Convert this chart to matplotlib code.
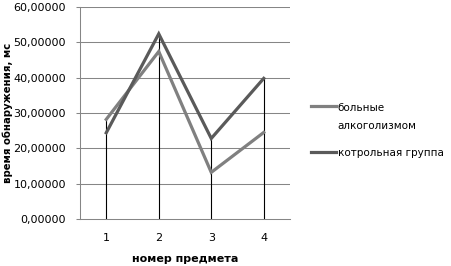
import matplotlib
matplotlib.use('Agg')
import matplotlib.pyplot as plt
from matplotlib.legend_handler import HandlerLine2D

# данные
subjects = [1, 2, 3, 4]
alcoholics = [28.2, 47.4, 13.2, 24.5]
control = [24.4, 52.4, 22.8, 39.8]
labels = ['больные\nалкоголизмом', 'котрольная группа']
y_ticks = [0, 10, 20, 30, 40, 50, 60]

plt.rcParams['font.family'] = ['DejaVu Sans']


class HandlerTop(HandlerLine2D):
    # линия легенды на уровне первой строки подписи
    def __init__(self, shift=0.0, **kw):
        super().__init__(**kw)
        self.shift = shift

    def create_artists(self, legend, orig_handle, xdescent, ydescent,
                       width, height, fontsize, trans):
        arts = super().create_artists(legend, orig_handle, xdescent, ydescent,
                                      width, height, fontsize, trans)
        for a in arts:
            yd = a.get_ydata()
            a.set_ydata([v + self.shift * fontsize for v in yd])
        return arts


fig = plt.figure(figsize=(4.51, 2.66), dpi=100)
ax = fig.add_axes([80 / 451, 1 - 219 / 266, 210 / 451, 212 / 266])

for y in y_ticks[1:]:
    ax.axhline(y, color='#868686', lw=0.75, zorder=0)

tops = [max(a, b) for a, b in zip(alcoholics, control)]
ax.vlines(subjects, 0, tops, color='black', lw=0.8, zorder=1)

l1, = ax.plot(subjects, alcoholics, color='#808080', lw=2.3, label=labels[0],
              zorder=2, solid_joinstyle='miter')
l2, = ax.plot(subjects, control, color='#5a5a5a', lw=2.3, label=labels[1],
              zorder=3, solid_joinstyle='miter')

ax.set_xlim(0.5, 4.5)
ax.set_ylim(0, 60)
ax.set_xticks(subjects)
ax.set_yticks(y_ticks)
ax.set_yticklabels([f'{v:.5f}'.replace('.', ',') for v in y_ticks])
ax.tick_params(axis='x', length=0, pad=10, labelsize=8)
ax.tick_params(axis='y', length=3, width=0.75, color='#868686', pad=7, labelsize=8)

for s in ['top', 'right']:
    ax.spines[s].set_visible(False)
for s in ['left', 'bottom']:
    ax.spines[s].set_color('#868686')
    ax.spines[s].set_linewidth(0.75)

ax.set_xlabel('номер предмета', fontsize=8, fontweight='bold', labelpad=8)
ax.set_ylabel('время обнаружения, мс', fontsize=7.3, fontweight='bold')
ax.yaxis.set_label_coords(-0.318, 0.5)

leg = ax.legend(handles=[l1, l2], loc='upper left',
                bbox_to_anchor=(311 / 451, 1 - 103 / 266),
                bbox_transform=fig.transFigure, frameon=False, fontsize=7.5,
                handlelength=2.4, handletextpad=0.15, borderpad=0,
                borderaxespad=0, labelspacing=1.6,
                handler_map={l1: HandlerTop(shift=1.05), l2: HandlerTop(shift=0.0)})
leg.get_texts()[0].set_linespacing(2.0)

fig.savefig('out.png', dpi=100)
